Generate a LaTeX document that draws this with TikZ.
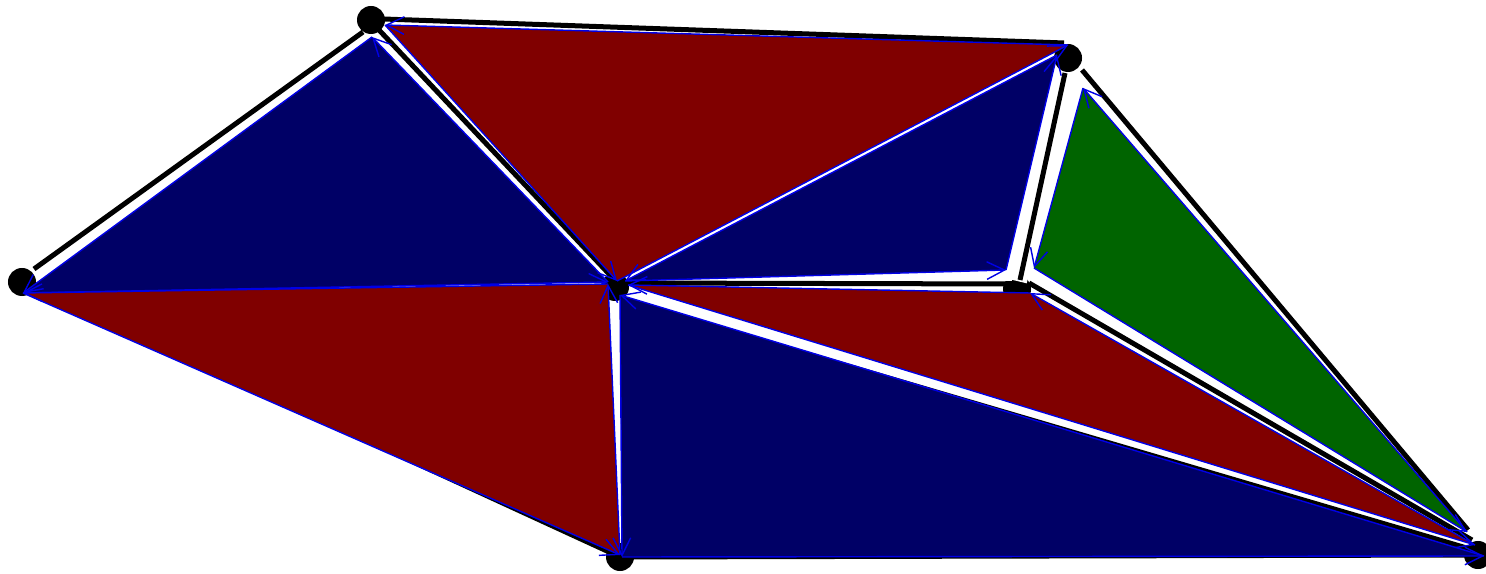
\documentclass[tikz,border=0pt]{standalone}
\usepackage{tikz}
\usetikzlibrary{arrows.meta,calc}

\definecolor{facered}{RGB}{128,0,0}
\definecolor{faceblue}{RGB}{0,0,102}
\definecolor{facegreen}{RGB}{0,100,0}
\definecolor{halfblue}{RGB}{0,0,230}

\tikzset{
  meshedge/.style={line width=0.05cm,black},
  gapline/.style={white,line width=0.07cm},
  halfedge/.style={halfblue,line width=0.4pt,-{Straight Barb[length=5pt,width=5pt]}},
  vertexdot/.style={fill=black}
}

% one face: filled triangle plus its three half-edges
\newcommand{\facet}[4]{%
  \fill[#1] (#2) -- (#3) -- (#4) -- cycle;
  \draw[halfedge] (#2) -- (#3);
  \draw[halfedge] (#3) -- (#4);
  \draw[halfedge] (#4) -- (#2);
}

\begin{document}
\begin{tikzpicture}[x=0.01cm,y=-0.01cm]
\useasboundingbox (0,0) rectangle (1486,574);
% mesh vertices
\coordinate (A) at (371,20);
\coordinate (B) at (1068,58);
\coordinate (C) at (22,282);
\coordinate (D) at (615,287);
\coordinate (E) at (1017,289);
\coordinate (F) at (620,557);
\coordinate (G) at (1478,555);
\foreach \v in {A,B,C,D,E,F,G}
  \fill[vertexdot] (\v) circle (0.14cm);
% white gaps over the dots
\draw[gapline,line width=0.2cm] ($(B)!0.5!(E)$) -- ($(E)+(0,-8)$);
\draw[gapline] ($(D)+(30,-9)$) -- ($(E)+(-5,-11)$);
% edges
\draw[meshedge] ($(C)+(12,-13)$) -- ($(A)+(-8,12)$);
\draw[meshedge] ($(A)+(12,-1)$) -- ($(B)+(-4,-15)$);
\draw[meshedge] ($(A)+(8,10)$) -- ($(D)+(-5,-12)$);
\draw[meshedge] ($(B)+(-3,15)$) -- ($(E)+(3,-9)$);
\draw[meshedge] ($(B)+(14,12)$) -- ($(G)+(-10,-25)$);
\draw[meshedge] ($(E)+(12,-6)$) -- ($(G)+(-6,-15)$);
\draw[meshedge] ($(D)+(10,-4)$) -- ($(E)+(0,-5)$);
\draw[meshedge] ($(D)+(12,14)$) -- ($(G)+(-8,-6)$);
\draw[meshedge] (C) -- (F);
\draw[meshedge] (F) -- (G);
% face corners
\coordinate (A1) at ($(A)+(1,17)$);
\coordinate (C1) at ($(C)+(1,11)$);
\coordinate (D1) at ($(D)+(-7,-5)$);
\coordinate (B2) at ($(B)+(0,-13)$);
\coordinate (A2) at ($(A)+(14,5)$);
\coordinate (D2) at ($(D)+(2,-6)$);
\coordinate (B3) at ($(B)+(-11,-3)$);
\coordinate (D3) at ($(D)+(10,-6)$);
\coordinate (E3) at ($(E)+(-11,-19)$);
\coordinate (B4) at ($(B)+(15,30)$);
\coordinate (E4) at ($(E)+(17,-21)$);
\coordinate (G4) at ($(G)+(-11,-23)$);
\coordinate (D5) at ($(D)+(-7,-3)$);
\coordinate (C5) at ($(C)+(1,11)$);
\coordinate (F5) at ($(F)+(0,-2)$);
\coordinate (E7) at ($(E)+(13,4)$);
\coordinate (D7) at ($(D)+(13,-2)$);
\coordinate (G7) at ($(G)+(-3,-10)$);
\coordinate (D6) at ($(D)+(5,8)$);
\coordinate (F6) at ($(F)+(2,0)$);
\coordinate (G6) at ($(G)+(6,1)$);
% faces
\facet{faceblue}{A1}{C1}{D1}
\facet{facered}{B2}{A2}{D2}
\facet{faceblue}{B3}{D3}{E3}
\facet{facegreen}{B4}{E4}{G4}
\facet{facered}{D5}{C5}{F5}
\facet{facered}{E7}{D7}{G7}
\facet{faceblue}{D6}{F6}{G6}
\end{tikzpicture}
\end{document}
